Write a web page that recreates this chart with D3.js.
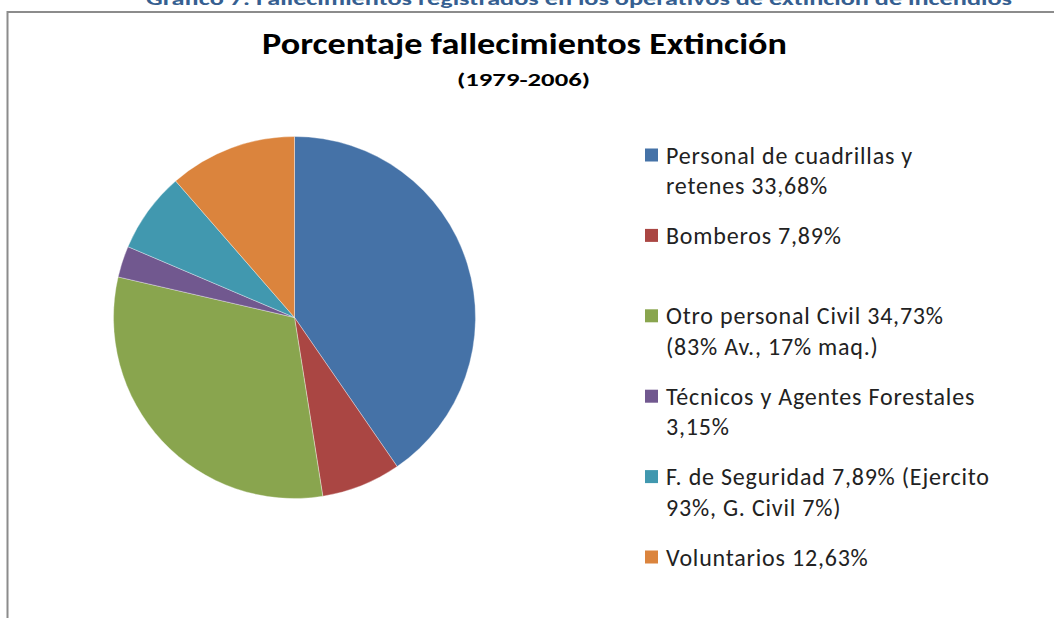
<!DOCTYPE html>
<html>
<head>
<meta charset="utf-8">
<script src="https://cdn.jsdelivr.net/npm/d3@7"></script>
<style>
  html, body { margin: 0; padding: 0; background: #fff; }
  svg { display: block; }
</style>
</head>
<body>
<svg id="chart" width="1054" height="618"></svg>
<script>
// ---- data ----
const categories = [
  "Personal de cuadrillas y retenes",
  "Bomberos",
  "Otro personal Civil",
  "Técnicos y Agentes Forestales",
  "F. de Seguridad",
  "Voluntarios"
];
// slice sizes as drawn in the picture (share of the full circle, %)
const sliceValues = [40.4, 7.1, 31.1, 2.8, 7.2, 11.4];
// legend text, as printed (line by line)
const legendLines = [
  ["Personal de cuadrillas y", "retenes 33,68%"],
  ["Bomberos 7,89%"],
  ["Otro personal Civil 34,73%", "(83% Av., 17% maq.)"],
  ["Técnicos y Agentes Forestales", "3,15%"],
  ["F. de Seguridad 7,89% (Ejercito", "93%, G. Civil 7%)"],
  ["Voluntarios 12,63%"]
];
const sliceColors = ["#4572A7", "#AA4643", "#89A54E", "#71588F", "#4198AF", "#DB843D"];
const headerText = "Gráfico 7. Fallecimientos registrados en los operativos de extinción de incendios";
const titleText = "Porcentaje fallecimientos Extinción";
const subtitleText = "(1979-2006)";

// ---- drawing ----
const svg = d3.select("#chart");
const font = "Carlito, Calibri, Lato, 'Liberation Sans', sans-serif";

// document heading (cut off at the top, as in the source page)
svg.append("text")
  .attr("x", 146).attr("y", 5)
  .attr("textLength", 866).attr("lengthAdjust", "spacingAndGlyphs")
  .style("font-family", font).style("font-weight", "bold")
  .style("font-size", "19px").style("fill", "#365F91")
  .text(headerText);

// chart frame
svg.append("rect")
  .attr("x", 7.5).attr("y", 12)
  .attr("width", 1100).attr("height", 700)
  .attr("fill", "none").attr("stroke", "#8C8C8C").attr("stroke-width", 2);

// titles
svg.append("text")
  .attr("x", 262).attr("y", 54)
  .attr("textLength", 525).attr("lengthAdjust", "spacingAndGlyphs")
  .style("font-family", font).style("font-weight", "bold")
  .style("font-size", "31px").style("fill", "#000")
  .text(titleText);

svg.append("text")
  .attr("x", 457).attr("y", 86)
  .attr("textLength", 133).attr("lengthAdjust", "spacingAndGlyphs")
  .style("font-family", font).style("font-weight", "bold")
  .style("font-size", "19px").style("fill", "#000")
  .text(subtitleText);

// pie
const color = d3.scaleOrdinal().domain(categories).range(sliceColors);
const pie = d3.pie().sort(null).value(d => d.value);
const arcs = pie(categories.map((c, i) => ({ name: c, value: sliceValues[i] })));
const arc = d3.arc().innerRadius(0).outerRadius(181);

svg.append("g")
  .attr("transform", "translate(294.5,317.5)")
  .selectAll("path")
  .data(arcs)
  .join("path")
  .attr("d", arc)
  .attr("fill", d => color(d.data.name))
  .attr("stroke", "#ffffff")
  .attr("stroke-opacity", 0.5)
  .attr("stroke-width", 0.7);

// legend
const legendY = d3.scalePoint()
  .domain(categories)
  .range([163.5, 565.5]);

const legend = svg.append("g");
const item = legend.selectAll("g")
  .data(categories)
  .join("g")
  .attr("transform", d => `translate(0,${legendY(d)})`);

item.append("rect")
  .attr("x", 645).attr("y", -15)
  .attr("width", 13).attr("height", 13)
  .attr("fill", d => color(d));

item.append("text")
  .style("font-family", font).style("font-size", "24px")
  .style("letter-spacing", "0.8px").style("fill", "#222")
  .selectAll("tspan")
  .data((d, i) => legendLines[i])
  .join("tspan")
  .attr("x", 666)
  .attr("y", (d, j) => j * 30.5)
  .text(d => d);
</script>
</body>
</html>
